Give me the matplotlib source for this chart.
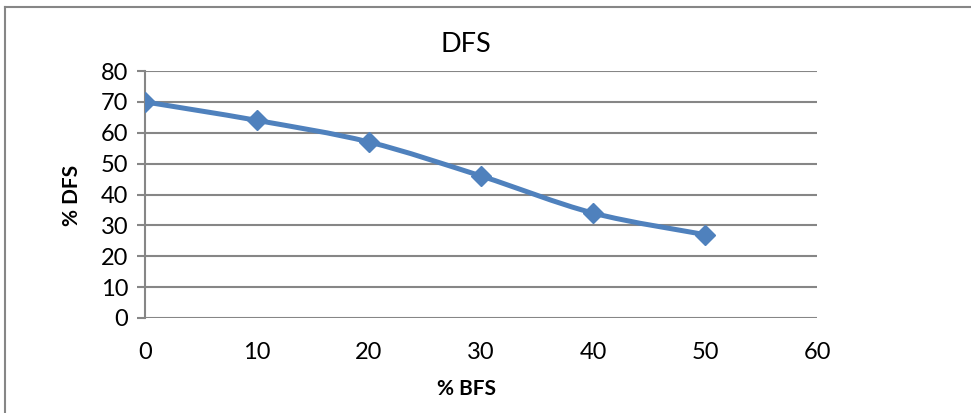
import numpy as np
import matplotlib.pyplot as plt
from matplotlib.path import Path
from matplotlib.patches import PathPatch

plt.rcParams['font.family'] = ['Lato', 'DejaVu Sans']

bfs = [0, 10, 20, 30, 40, 50]
dfs = [70, 64, 57, 46, 34, 27]
xticks = [0, 10, 20, 30, 40, 50, 60]
yticks = [0, 10, 20, 30, 40, 50, 60, 70, 80]

blue = '#4F81BD'
grey = '#868686'


def smooth_path(x, y):
    # Excel style smoothed line: cubic bezier through points (catmull-rom)
    pts = np.column_stack([x, y]).astype(float)
    verts = [pts[0]]
    codes = [Path.MOVETO]
    n = len(pts)
    for i in range(n - 1):
        p0 = pts[max(i - 1, 0)]
        p1 = pts[i]
        p2 = pts[i + 1]
        p3 = pts[min(i + 2, n - 1)]
        c1 = p1 + (p2 - p0) / 6
        c2 = p2 - (p3 - p1) / 6
        verts += [c1, c2, p2]
        codes += [Path.CURVE4] * 3
    return Path(verts, codes)


fig = plt.figure(figsize=(9.71, 4.13), dpi=100)
ax = fig.add_axes([145 / 971, 1 - 318 / 413, 672 / 971, 247 / 413])

# chart border (only top and left visible in the crop)
fig.add_artist(plt.Line2D([5 / 971, 5 / 971], [0, 1 - 7 / 413], transform=fig.transFigure,
                          color=grey, lw=1.5))
fig.add_artist(plt.Line2D([5 / 971, 1], [1 - 7 / 413, 1 - 7 / 413], transform=fig.transFigure,
                          color=grey, lw=1.5))

ax.add_patch(PathPatch(smooth_path(bfs, dfs), facecolor='none', edgecolor=blue,
                       lw=3.6, capstyle='round', joinstyle='round', zorder=3))
ax.plot(bfs, dfs, linestyle='none', marker='D', markersize=10.5, color=blue, zorder=4)

ax.set_xlim(0, 60)
ax.set_ylim(0, 80)
ax.set_xticks(xticks)
ax.set_yticks(yticks)
ax.yaxis.grid(True, color=grey, lw=1.5)
ax.set_axisbelow(True)
for s in ['top', 'right', 'bottom']:
    ax.spines[s].set_visible(False)
ax.spines['left'].set_color(grey)
ax.spines['left'].set_linewidth(1.5)
ax.tick_params(axis='y', length=6, width=1.5, color=grey, labelsize=17, pad=6)
ax.tick_params(axis='x', length=0, labelsize=17, pad=17)
for lbl in ax.get_xticklabels() + ax.get_yticklabels():
    lbl.set_clip_on(False)

fig.text(466 / 971, 1 - 45 / 413, 'DFS', ha='center', va='center', fontsize=19.5)
fig.text(466 / 971, 1 - 389 / 413, '% BFS', ha='center', va='center', fontsize=15,
         fontweight='bold')
fig.text(72 / 971, 1 - 195 / 413, '% DFS', ha='center', va='center', fontsize=15,
         fontweight='bold', rotation=90)

fig.savefig('out.png', dpi=100)
